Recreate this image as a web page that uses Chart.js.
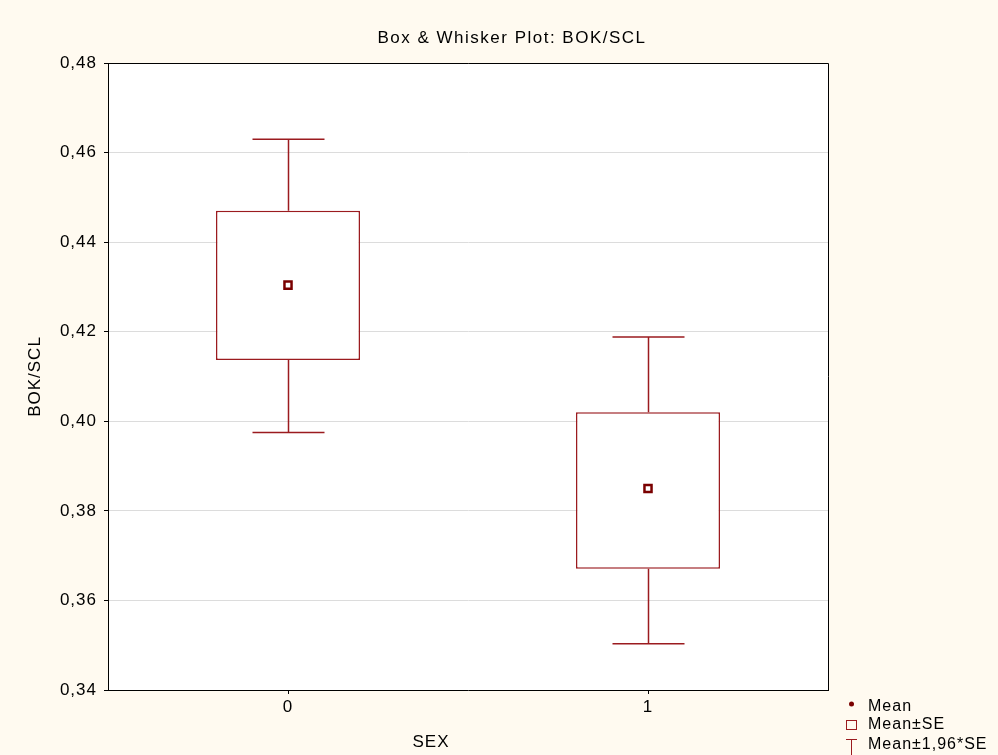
<!DOCTYPE html>
<html>
<head>
<meta charset="utf-8">
<script src="https://cdn.jsdelivr.net/npm/chart.js@4"></script>
<style>
  body { margin: 0; background: #fffaf0; }
  #wrap { width: 998px; height: 755px; position: relative; }
</style>
</head>
<body>
<div id="wrap"><canvas id="myChart"></canvas></div>
<script>
// categories and values
var categories = ['0', '1'];
var means = [0.4304, 0.3850];
var seLow = [0.4137, 0.3671];
var seHigh = [0.4470, 0.4020];
var ciLow = [0.3975, 0.3503];
var ciHigh = [0.4630, 0.4188];

var yTicks = [0.34, 0.36, 0.38, 0.40, 0.42, 0.44, 0.46, 0.48];

var RED = '#9b1b1f';
var DARKRED = '#7a0000';
var FONT = '"Liberation Sans", Arial, sans-serif';

var boxData = categories.map(function (c, i) { return [seLow[i], seHigh[i]]; });

// whiskers, frame, title, legend
var extras = {
    id: 'extras',
    beforeDraw: function (chart) {
        var ctx = chart.ctx;
        ctx.letterSpacing = '1px';
        var a = chart.chartArea;
        ctx.save();
        ctx.fillStyle = '#ffffff';
        ctx.fillRect(a.left, a.top, a.right - a.left, a.bottom - a.top);
        ctx.restore();
    },
    beforeDatasetsDraw: function (chart) {
        var ctx = chart.ctx;
        var x = chart.scales.x, y = chart.scales.y;
        ctx.save();
        ctx.strokeStyle = RED;
        ctx.lineWidth = 1.5;
        categories.forEach(function (c, i) {
            var px = Math.round(x.getPixelForValue(i)) + 0.5;
            var half = 36;
            ctx.beginPath();
            ctx.moveTo(px, y.getPixelForValue(seHigh[i]));
            ctx.lineTo(px, y.getPixelForValue(ciHigh[i]));
            ctx.moveTo(px - half, y.getPixelForValue(ciHigh[i]));
            ctx.lineTo(px + half, y.getPixelForValue(ciHigh[i]));
            ctx.moveTo(px, y.getPixelForValue(seLow[i]));
            ctx.lineTo(px, y.getPixelForValue(ciLow[i]));
            ctx.moveTo(px - half, y.getPixelForValue(ciLow[i]));
            ctx.lineTo(px + half, y.getPixelForValue(ciLow[i]));
            ctx.stroke();
        });
        ctx.restore();
    },
    afterDraw: function (chart) {
        var ctx = chart.ctx;
        var a = chart.chartArea;
        ctx.save();
        // top and right frame
        ctx.strokeStyle = '#000000';
        ctx.lineWidth = 1;
        ctx.beginPath();
        ctx.moveTo(a.left, a.top + 0.5);
        ctx.lineTo(a.right + 0.5, a.top + 0.5);
        ctx.lineTo(a.right + 0.5, a.bottom);
        ctx.stroke();

        ctx.fillStyle = '#000000';
        ctx.textBaseline = 'alphabetic';
        ctx.textAlign = 'center';
        ctx.letterSpacing = '1.5px';
        ctx.font = '17px ' + FONT;
        ctx.fillText('Box & Whisker Plot: BOK/SCL', 512, 43);
        ctx.letterSpacing = '1px';
        ctx.fillText('SEX', 431, 747);

        // legend
        ctx.font = '16px ' + FONT;
        ctx.textAlign = 'left';
        ctx.fillText('Mean', 868, 711);
        ctx.fillText('Mean\u00b1SE', 868, 729);
        ctx.fillText('Mean\u00b11,96*SE', 868, 749);

        ctx.fillStyle = DARKRED;
        ctx.beginPath();
        ctx.arc(851.5, 704, 2.5, 0, Math.PI * 2);
        ctx.fill();

        ctx.strokeStyle = RED;
        ctx.lineWidth = 1;
        ctx.strokeRect(846.5, 720.5, 10, 9);

        ctx.beginPath();
        ctx.moveTo(846, 739.5);
        ctx.lineTo(857, 739.5);
        ctx.moveTo(851.5, 739.5);
        ctx.lineTo(851.5, 755);
        ctx.stroke();
        ctx.restore();
    }
};

var ctx = document.getElementById('myChart').getContext('2d');

var myChart = new Chart(ctx, {
    type: 'bar',
    data: {
        labels: categories,
        datasets: [
            {
                type: 'bar',
                label: 'Mean\u00b1SE',
                data: boxData,
                backgroundColor: '#ffffff',
                borderColor: RED,
                borderWidth: 1.5,
                borderSkipped: false,
                categoryPercentage: 1,
                barPercentage: 0.4,
                grouped: false,
                order: 2
            },
            {
                type: 'line',
                label: 'Mean',
                data: means,
                showLine: false,
                pointStyle: 'rect',
                pointRadius: 5,
                pointBorderWidth: 2.5,
                pointBackgroundColor: '#ffffff',
                pointBorderColor: DARKRED,
                order: 1
            }
        ]
    },
    options: {
        responsive: true,
        maintainAspectRatio: false,
        animation: false,
        layout: {
            padding: { top: 63, right: 170, bottom: 0, left: 0 }
        },
        plugins: {
            legend: { display: false },
            tooltip: { enabled: false }
        },
        scales: {
            x: {
                afterFit: function (s) { s.height = 65; },
                grid: {
                    display: true,
                    drawOnChartArea: false,
                    offset: false,
                    tickLength: 4,
                    color: '#000000'
                },
                border: { color: '#000000', width: 1 },
                ticks: {
                    color: '#000000',
                    padding: 3,
                    font: { family: FONT, size: 17 }
                }
            },
            y: {
                min: 0.34,
                max: 0.48,
                afterFit: function (s) { s.width = 108; },
                afterBuildTicks: function (s) {
                    s.ticks = yTicks.map(function (v) { return { value: v }; });
                },
                grid: {
                    color: '#dcdcdc',
                    tickColor: '#000000',
                    tickLength: 4
                },
                border: { color: '#000000', width: 1 },
                ticks: {
                    color: '#000000',
                    padding: 7,
                    font: { family: FONT, size: 17 },
                    callback: function (v) { return v.toFixed(2).replace('.', ','); }
                },
                title: {
                    display: true,
                    text: 'BOK/SCL',
                    color: '#000000',
                    font: { family: FONT, size: 17 },
                    padding: { top: 25, bottom: 0 }
                }
            }
        }
    },
    plugins: [extras]
});
</script>
</body>
</html>
